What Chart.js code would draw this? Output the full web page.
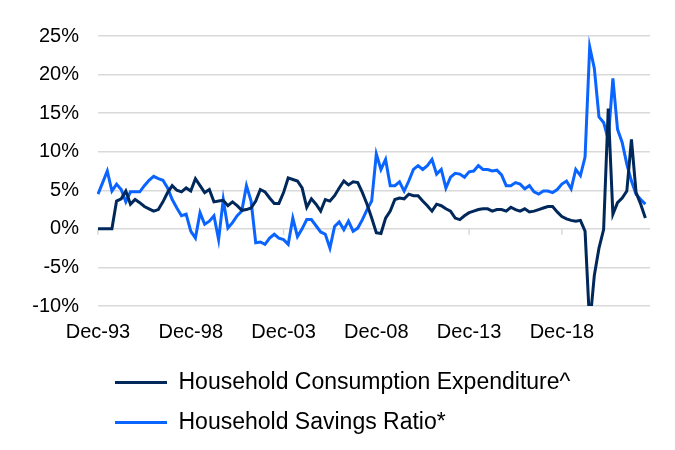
<!DOCTYPE html>
<html>
<head>
<meta charset="utf-8">
<script src="https://cdn.jsdelivr.net/npm/chart.js@4.4.1/dist/chart.umd.min.js"></script>
<style>
  body { margin: 0; background: #fff; }
  canvas { display: block; }
</style>
</head>
<body>
<canvas id="chart" width="675" height="450"></canvas>
<script>
// quarterly, Dec-93 onwards (last quarter on the axis has no data yet)
const firstYear = 1993;
const quarterCount = 120;
const tickLabels = ['Dec-93', 'Dec-98', 'Dec-03', 'Dec-08', 'Dec-13', 'Dec-18'];

const consumption = [
  0, 0, 0, 0, 3.6, 3.9, 4.9, 3.2, 3.8, 3.4,
  2.9, 2.6, 2.3, 2.5, 3.5, 4.7, 5.6, 5.0, 4.8, 5.3,
  4.9, 6.5, 5.6, 4.7, 5.1, 3.5, 3.6, 3.7, 3.0, 3.5,
  3.0, 2.4, 2.5, 2.7, 3.6, 5.1, 4.8, 4.0, 3.3, 3.3,
  4.7, 6.6, 6.4, 6.2, 5.3, 2.8, 3.9, 3.2, 2.3, 3.8,
  3.6, 4.3, 5.3, 6.2, 5.7, 6.1, 6.0, 4.7, 3.2, 1.4,
  -0.5, -0.6, 1.4, 2.3, 3.8, 4.0, 3.9, 4.5, 4.3, 4.3,
  3.6, 3.0, 2.3, 3.2, 3.0, 2.6, 2.3, 1.4, 1.2, 1.7,
  2.1, 2.3, 2.5, 2.6, 2.6, 2.3, 2.5, 2.5, 2.3, 2.8,
  2.5, 2.3, 2.6, 2.2, 2.3, 2.5, 2.7, 2.9, 2.9, 2.2,
  1.6, 1.3, 1.1, 1.0, 1.1, -0.3, -12.5, -6.0, -2.5, -0.1,
  15.6, 1.9, 3.4, 4.0, 4.9, 11.6, 4.7, 3.2, 1.4
];

const savings = [
  4.5, 6.0, 7.5, 4.9, 5.8, 5.1, 3.5, 4.8, 4.8, 4.8,
  5.6, 6.3, 6.8, 6.5, 6.3, 5.3, 3.8, 2.7, 1.7, 1.9,
  -0.3, -1.2, 2.1, 0.6, 1.0, 1.7, -1.4, 3.8, 0.1, 0.8,
  1.7, 2.3, 5.6, 3.6, -1.8, -1.7, -2.0, -1.2, -0.7, -1.2,
  -1.4, -2.0, 1.4, -1.0, 0.0, 1.2, 1.2, 0.4, -0.4, -0.7,
  -2.5, 0.3, 0.9, -0.1, 1.0, -0.3, 0.1, 1.2, 2.5, 3.6,
  9.7, 7.7, 9.0, 5.6, 5.6, 6.1, 4.9, 6.2, 7.7, 8.2,
  7.7, 8.2, 9.0, 7.1, 7.7, 5.3, 6.7, 7.2, 7.1, 6.7,
  7.4, 7.5, 8.2, 7.7, 7.7, 7.5, 7.6, 7.0, 5.6, 5.6,
  6.0, 5.8, 5.2, 5.6, 4.8, 4.5, 4.9, 4.9, 4.7, 5.1,
  5.8, 6.2, 5.2, 7.7, 6.9, 9.3, 23.6, 20.8, 14.5, 13.8,
  11.6, 19.5, 12.9, 11.2, 8.4, 6.2, 4.5, 3.8, 3.2
];

const seriesNames = ['Household Consumption Expenditure^', 'Household Savings Ratio*'];

// build the quarter labels: Dec-93, Mar-94, Jun-94 ...
const months = ['Mar', 'Jun', 'Sep', 'Dec'];
const quarters = [];
for (let i = 0; i < quarterCount; i++) {
    const q = 3 + i;
    const year = firstYear + Math.floor(q / 4);
    quarters.push(months[q % 4] + '-' + String(year).slice(-2));
}

const FONT = "'Liberation Sans', Arial, sans-serif";

// small tick marks hanging off the 0% line at each labelled date
const zeroTicks = {
    id: 'zeroTicks',
    beforeDatasetsDraw(chart) {
        const x = chart.scales.x;
        const y0 = chart.scales.y.getPixelForValue(0);
        const ctx = chart.ctx;
        ctx.save();
        ctx.strokeStyle = '#d9d9d9';
        ctx.lineWidth = 1.5;
        quarters.forEach((q, i) => {
            if (!tickLabels.includes(q)) return;
            const px = x.getPixelForValue(i);
            ctx.beginPath();
            ctx.moveTo(px, y0);
            ctx.lineTo(px, y0 + 6);
            ctx.stroke();
        });
        ctx.restore();
    }
};

new Chart(document.getElementById('chart'), {
    type: 'line',
    data: {
        labels: quarters,
        datasets: [
            {
                label: seriesNames[0],
                data: consumption,
                borderColor: '#00285a',
                backgroundColor: '#00285a',
                borderWidth: 3,
                pointRadius: 0,
                tension: 0
            },
            {
                label: seriesNames[1],
                data: savings,
                borderColor: '#0a64ff',
                backgroundColor: '#0a64ff',
                borderWidth: 3,
                pointRadius: 0,
                tension: 0
            }
        ]
    },
    options: {
        responsive: false,
        animation: false,
        layout: { padding: { top: 36, right: 25, bottom: 6, left: 0 } },
        scales: {
            x: {
                grid: { display: false },
                border: { display: false },
                ticks: {
                    autoSkip: false,
                    maxRotation: 0,
                    minRotation: 0,
                    padding: 6,
                    color: '#000',
                    font: { family: FONT, size: 20 },
                    callback: function(value) {
                        const lab = quarters[value];
                        return tickLabels.includes(lab) ? lab : '';
                    }
                },
                afterFit: scale => { scale.height = 48; }
            },
            y: {
                min: -10,
                max: 25,
                grid: { color: '#d9d9d9', lineWidth: 1.5, drawTicks: false },
                border: { display: false },
                ticks: {
                    stepSize: 5,
                    padding: 19,
                    color: '#000',
                    font: { family: FONT, size: 20 },
                    callback: v => v + '%'
                },
                afterFit: scale => { scale.width = 98; }
            }
        },
        plugins: {
            tooltip: { enabled: false },
            legend: {
                position: 'bottom',
                align: 'start',
                fullSize: false,
                labels: {
                    usePointStyle: true,
                    pointStyle: 'line',
                    pointStyleWidth: 52,
                    padding: 17,
                    color: '#000',
                    font: { family: FONT, size: 23 }
                }
            }
        }
    },
    plugins: [zeroTicks]
});
</script>
</body>
</html>
